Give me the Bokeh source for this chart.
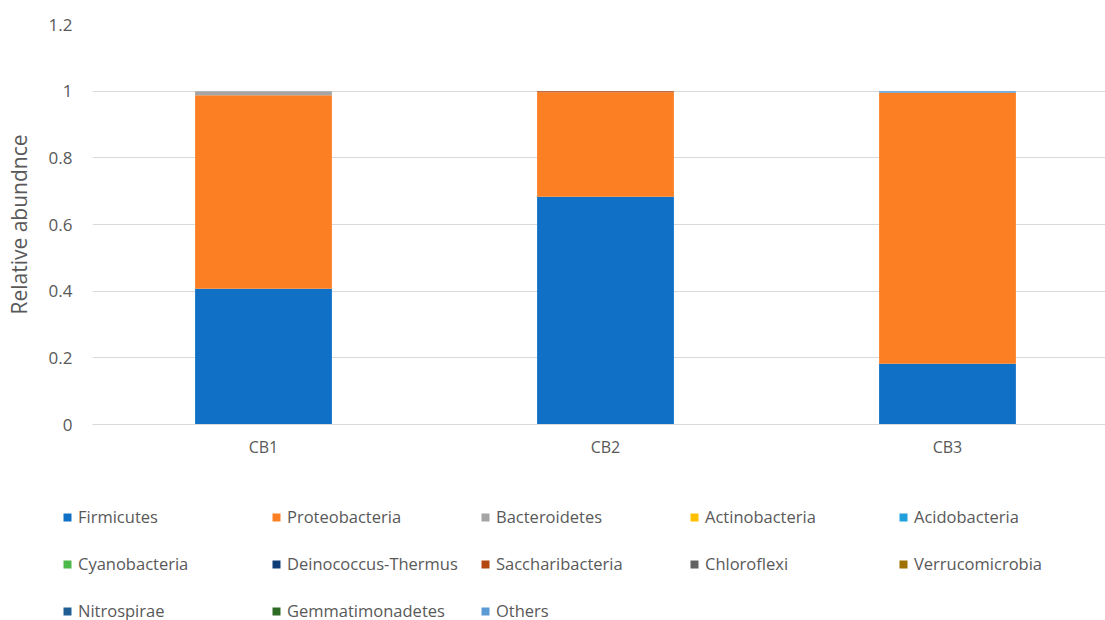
from bokeh.plotting import figure
from bokeh.models import Range1d, FixedTicker, NumeralTickFormatter, Legend, LegendItem
from bokeh.layouts import column
from bokeh.embed import file_html
from bokeh.resources import INLINE

samples = ["CB1", "CB2", "CB3"]
phyla = ["Firmicutes", "Proteobacteria", "Bacteroidetes", "Actinobacteria", "Acidobacteria",
         "Cyanobacteria", "Deinococcus-Thermus", "Saccharibacteria", "Chloroflexi",
         "Verrucomicrobia", "Nitrospirae", "Gemmatimonadetes", "Others"]
colors = ["#0F70C6", "#FD7F23", "#A5A5A5", "#FFC000", "#1F9FDC",
          "#4CB848", "#0E3E7A", "#B2470F", "#636363",
          "#9E7100", "#1F5F96", "#2E6B24", "#5B9BD5"]

Firmicutes = [0.407, 0.683, 0.182]
Proteobacteria = [0.581, 0.314, 0.813]
Bacteroidetes = [0.012, 0.0, 0.0]
Actinobacteria = [0.0, 0.0, 0.0]
Acidobacteria = [0.0, 0.0, 0.0]
Cyanobacteria = [0.0, 0.0, 0.0]
Deinococcus_Thermus = [0.0, 0.0, 0.0]
Saccharibacteria = [0.0, 0.003, 0.0]
Chloroflexi = [0.0, 0.0, 0.0]
Verrucomicrobia = [0.0, 0.0, 0.0]
Nitrospirae = [0.0, 0.0, 0.0]
Gemmatimonadetes = [0.0, 0.0, 0.0]
Others = [0.0, 0.0, 0.005]

y_ticks = [0, 0.2, 0.4, 0.6, 0.8, 1.0, 1.2]

series = [Firmicutes, Proteobacteria, Bacteroidetes, Actinobacteria, Acidobacteria,
          Cyanobacteria, Deinococcus_Thermus, Saccharibacteria, Chloroflexi,
          Verrucomicrobia, Nitrospirae, Gemmatimonadetes, Others]

FONT = "Open Sans"
TXT = "#595959"
GRID = "#D9D9D9"

xs = [i + 0.5 for i in range(len(samples))]
data = {"x": xs}
for name, vals in zip(phyla, series):
    data[name] = vals

# ---- main chart ----
p = figure(width=1105, height=463, output_backend="svg", toolbar_location=None,
           x_range=Range1d(0, 2.962), y_range=Range1d(0, 1.2),
           min_border_left=92, min_border_right=0, min_border_top=24, min_border_bottom=39)
p.outline_line_color = None
p.frame_align = False

p.vbar_stack(phyla, x="x", width=0.40, color=colors, source=data, line_color=None)

p.xaxis.ticker = FixedTicker(ticks=xs)
p.xaxis.major_label_overrides = {x: s for x, s in zip(xs, samples)}
p.xaxis.axis_line_color = GRID
p.xaxis.major_tick_line_color = None
p.xaxis.minor_tick_line_color = None
p.xaxis.major_label_text_font = FONT
p.xaxis.major_label_text_font_size = "16px"
p.xaxis.major_label_text_color = TXT
p.xaxis.major_label_standoff = 5

p.yaxis.ticker = FixedTicker(ticks=y_ticks)
p.yaxis.formatter = NumeralTickFormatter(format="0.[0]")
p.yaxis.axis_line_color = None
p.yaxis.major_tick_line_color = None
p.yaxis.minor_tick_line_color = None
p.yaxis.major_label_text_font = FONT
p.yaxis.major_label_text_font_size = "17px"
p.yaxis.major_label_text_color = TXT
p.yaxis.major_label_standoff = 14
p.yaxis.axis_label = "Relative abundnce"
p.yaxis.axis_label_text_font = FONT
p.yaxis.axis_label_text_font_size = "21px"
p.yaxis.axis_label_text_font_style = "normal"
p.yaxis.axis_label_text_color = TXT
p.yaxis.axis_label_standoff = 13

p.xgrid.grid_line_color = None
p.ygrid.ticker = FixedTicker(ticks=y_ticks)
p.ygrid.grid_line_color = GRID
p.ygrid.grid_line_width = 1

# ---- legend strip (same stacked series, kept out of view) ----
lg = figure(width=1105, height=157, output_backend="svg", toolbar_location=None,
            x_range=Range1d(0, 2.962), y_range=Range1d(10, 11),
            x_axis_location=None, y_axis_location=None,
            min_border_left=0, min_border_right=0, min_border_top=0, min_border_bottom=0)
lg.outline_line_color = None
lg.grid.visible = False
lg.frame_align = False
lrs = lg.vbar_stack(phyla, x="x", width=0.40, color=colors, source=data, line_color=None)

items = [LegendItem(label=name, renderers=[r]) for name, r in zip(phyla, lrs)]
legend = Legend(items=items, ncols=5, orientation="horizontal", location=(62, -9),
                glyph_width=10, glyph_height=10, label_standoff=6,
                label_width=183, label_height=37, spacing=10,
                padding=0, margin=0, border_line_color=None,
                background_fill_alpha=0,
                label_text_font=FONT, label_text_font_size="16.5px",
                label_text_color=TXT)
lg.add_layout(legend, "center")

layout = column(p, lg, spacing=0)
open("out.html", "w").write(file_html(layout, INLINE))
